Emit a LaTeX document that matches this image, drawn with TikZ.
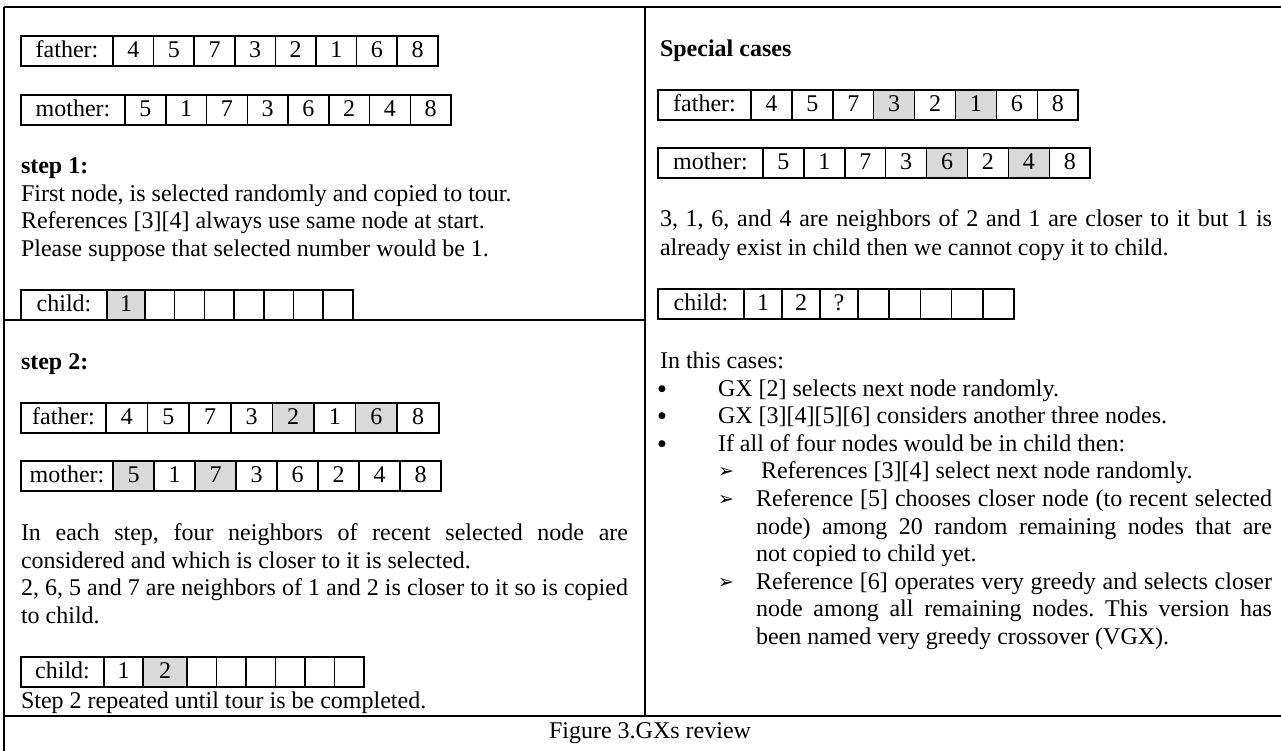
\documentclass[tikz,border=0pt]{standalone}
\usepackage{fontspec}
\setmainfont{Liberation Serif}
\newfontfamily\symfont{DejaVu Sans}
\frenchspacing
\definecolor{shade}{HTML}{D9D9D9}
\tikzset{
  tcell/.style={draw, line width=1.5pt, inner sep=0pt, outer sep=0pt, minimum height=30pt,
    text height=17pt, text depth=4pt, anchor=north west, font=\fontsize{24}{27.6}\selectfont},
  txt/.style={anchor=base west, inner sep=0pt, outer sep=0pt, font=\fontsize{24}{27.6}\selectfont},
  bold/.style={txt, font=\fontsize{24}{27.6}\selectfont\bfseries},
  bul/.style={anchor=center, inner sep=0pt, outer sep=0pt, font=\symfont\fontsize{9}{10}\selectfont},
  arr/.style={txt, font=\symfont\fontsize{19}{22}\selectfont},
  frame/.style={line width=1.8pt},
}
\newcommand\drawrow[5]{%
  \node[tcell, minimum width=#3pt] (#1-0) at #2 {#4};
  \foreach \w/\v/\f [count=\i, remember=\i as \j (initially 0)] in {#5}
    \node[tcell, minimum width=\w pt, fill=\f] (#1-\i) at (#1-\j.north east) {\v};
}
\begin{document}
\begin{tikzpicture}[x=1pt, y=-1pt]
\useasboundingbox (0,0) rectangle (1281,751);
% frame
\coordinate (TL) at (4,7);
\coordinate (TR) at (1285,7);
\coordinate (BL) at (4,755);
\coordinate (DT) at (645,7);
\coordinate (DB) at (645,716);
\coordinate (ML) at (4,320);
\coordinate (MR) at (645,320);
\coordinate (CL) at (4,716);
\coordinate (CR) at (1285,716);
\draw[frame] (TL) -- (TR);
\draw[frame] (TL) -- (BL);
\draw[frame] (DT) -- (DB);
\draw[frame] (ML) -- (MR);
\draw[frame] (CL) -- (CR);

% ---------- left column, step 1
\drawrow{fa}{(21,36)}{92}{father:}{40.6/4/white,40.6/5/white,40.6/7/white,40.6/3/white,40.6/2/white,40.6/1/white,40.6/6/white,40.6/8/white}
\drawrow{mo}{(21,95)}{104}{mother:}{40.75/5/white,40.75/1/white,40.75/7/white,40.75/3/white,40.75/6/white,40.75/2/white,40.75/4/white,40.75/8/white}
\node[bold] (s1) at (21,174) {step 1:};
\node[txt] (s1a) at (21,201.5) {First node, is selected randomly and copied to tour.};
\node[txt] (s1b) at (21,229) {References [3][4] always use same node at start.};
\node[txt] (s1c) at (21,257) {Please suppose that selected number would be 1.};
\drawrow{ch}{(21,290)}{86}{child:}{38/1/shade,29.7//white,29.7//white,29.7//white,29.7//white,29.7//white,29.7//white,29.7//white}

% ---------- left column, step 2
\node[bold] (s2) at (21,369) {step 2:};
\drawrow{fb}{(21,403)}{85}{father:}{41.6/4/white,41.6/5/white,41.6/7/white,41.6/3/white,41.6/2/shade,41.6/1/white,41.6/6/shade,41.6/8/white}
\drawrow{mb}{(21,461)}{92}{mother:}{41/5/shade,41/1/white,41/7/shade,41/3/white,41/6/white,41/2/white,41/4/white,41/8/white}
\node[txt] (p1) at (21,540) {\makebox[607pt][s]{In each step, four neighbors of recent selected node are}};
\node[txt] (p2) at (21,568) {considered and which is closer to it is selected.};
\node[txt] (p3) at (21,595.5) {\makebox[607pt][s]{2, 6, 5 and 7 are neighbors of 1 and 2 is closer to it so is copied}};
\node[txt] (p4) at (21,623) {to child.};
\drawrow{cb}{(21,657)}{83}{child:}{39/1/white,44/2/shade,29.5//white,29.5//white,29.5//white,29.5//white,29.5//white,29.5//white}
\node[txt] (p5) at (21,708) {Step 2 repeated until tour is be completed.};

% ---------- right column
\node[bold] (sc) at (660,57) {Special cases};
\drawrow{fr}{(658,90)}{93}{father:}{40.9/4/white,40.9/5/white,40.9/7/white,40.9/3/shade,40.9/2/white,40.9/1/shade,40.9/6/white,40.9/8/white}
\drawrow{mr}{(658,148)}{105}{mother:}{40.9/5/white,40.9/1/white,40.9/7/white,40.9/3/white,40.9/6/shade,40.9/2/white,40.9/4/shade,40.9/8/white}
\node[txt] (r1) at (660,227) {\makebox[612pt][s]{3, 1, 6, and 4 are neighbors of 2 and 1 are closer to it but 1 is}};
\node[txt] (r2) at (660,255) {already exist in child then we cannot copy it to child.};
\drawrow{cr}{(658,289)}{86}{child:}{38/1/white,38/2/white,38/?/white,31.2//white,31.2//white,31.2//white,31.2//white,31.2//white}

\node[txt] (r3) at (660,368) {In this cases:};
\node[bul] (b1) at (662,389) {●};
\node[txt] (b1t) at (718,396) {GX [2] selects next node randomly.};
\node[bul] (b2) at (662,416.5) {●};
\node[txt] (b2t) at (718,423.5) {GX [3][4][5][6] considers another three nodes.};
\node[bul] (b3) at (662,444) {●};
\node[txt] (b3t) at (718,451) {If all of four nodes would be in child then:};
\node[arr] (a1) at (718,477) {➢};
\node[txt] (a1t) at (761,478.5) {References [3][4] select next node randomly.};
\node[arr] (a2) at (718,505) {➢};
\node[txt] (a2t) at (756,506) {\makebox[516pt][s]{Reference [5] chooses closer node (to recent selected}};
\node[txt] (a2u) at (756,534) {\makebox[516pt][s]{node) among 20 random remaining nodes that are}};
\node[txt] (a2v) at (756,561.5) {not copied to child yet.};
\node[arr] (a3) at (718,588) {➢};
\node[txt] (a3t) at (756,589) {\makebox[516pt][s]{Reference [6] operates very greedy and selects closer}};
\node[txt] (a3u) at (756,616.5) {\makebox[516pt][s]{node among all remaining nodes. This version has}};
\node[txt] (a3v) at (756,644) {been named very greedy crossover (VGX).};

% caption
\node[txt, anchor=base] (cap) at (650,738) {Figure 3.GXs review};
\end{tikzpicture}
\end{document}
